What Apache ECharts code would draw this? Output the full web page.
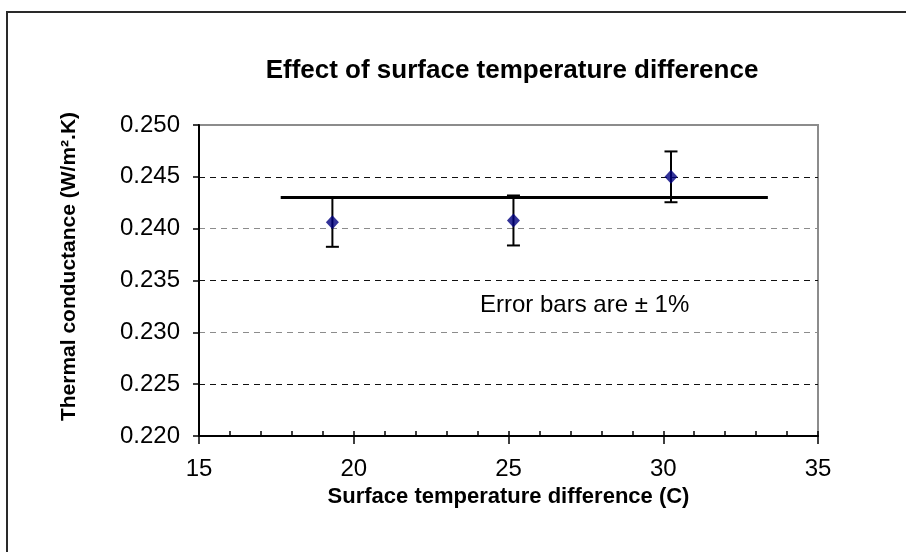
<!DOCTYPE html>
<html>
<head>
<meta charset="utf-8">
<script src="https://cdn.jsdelivr.net/npm/echarts@6/dist/echarts.min.js"></script>
<style>
  html, body { margin: 0; padding: 0; background: #fff; }
  #chart { width: 906px; height: 552px; }
</style>
</head>
<body>
<div id="chart"></div>
<script>
// measured points
const tempDiff = [19.31, 25.16, 30.25]
const conductance = [0.24063, 0.24079, 0.2450]
// error bar ends (+/- 1%)
const errLow = [0.23825, 0.23838, 0.24255]
const errHigh = [0.24302, 0.24320, 0.24745]
// mean line
const meanLineX = [17.64, 33.38]
const meanLineY = [0.2430, 0.2430]

const yTickColors = ['#8c8c8c', '#111111']

const chart = echarts.init(document.getElementById('chart'))

const pointData = tempDiff.map((x, i) => [x, conductance[i]])
const errData = tempDiff.map((x, i) => [x, errLow[i], errHigh[i]])
const lineData = meanLineX.map((x, i) => [x, meanLineY[i]])

const option = {
  backgroundColor: '#fff',
  animation: false,
  textStyle: { fontFamily: 'Liberation Sans, Arial, sans-serif' },
  title: {
    text: 'Effect of surface temperature difference',
    left: 507,
    top: 53,
    textAlign: 'center',
    textStyle: { fontSize: 26, fontWeight: 'bold', color: '#000', fontFamily: 'Liberation Sans' }
  },
  grid: {
    left: 199, right: 88, top: 125, bottom: 116,
    show: true, borderColor: '#8c8c8c', borderWidth: 2, backgroundColor: '#fff'
  },
  graphic: [
    {
      type: 'rect',
      shape: { x: 7, y: 12, width: 1000, height: 1000 },
      style: { fill: 'none', stroke: '#2a2a2a', lineWidth: 2 },
      silent: true
    },
    {
      type: 'text',
      left: 480,
      top: 293,
      style: { text: 'Error bars are ± 1%', fontSize: 24, fill: '#000', fontFamily: 'Liberation Sans' }
    }
  ],
  xAxis: [
    {
      type: 'value',
      min: 15, max: 35, interval: 5,
      name: 'Surface temperature difference (C)',
      nameLocation: 'middle',
      nameGap: 44,
      nameTextStyle: { fontSize: 22, fontWeight: 'bold', color: '#000' },
      axisLine: { show: true, lineStyle: { color: '#000', width: 2 } },
      axisTick: { show: true, length: 8, lineStyle: { color: '#000', width: 1.5 } },
      axisLabel: { fontSize: 24, color: '#000', margin: 21 },
      splitLine: { show: false }
    },
    {
      type: 'value',
      position: 'bottom',
      min: 15, max: 35, interval: 1,
      axisLine: { show: false },
      axisTick: { show: true, inside: true, length: 5, lineStyle: { color: '#000', width: 1.5 } },
      axisLabel: { show: false },
      splitLine: { show: false }
    }
  ],
  yAxis: {
    type: 'value',
    min: 0.220, max: 0.250, interval: 0.005,
    name: 'Thermal conductance (W/m².K)',
    nameLocation: 'middle',
    nameGap: 119,
    nameTextStyle: { fontSize: 21, fontWeight: 'bold', color: '#000', padding: [0, 0, 0, 28] },
    axisLine: { show: true, lineStyle: { color: '#000', width: 2 } },
    axisTick: { show: true, length: 6, lineStyle: { color: '#000', width: 1.5 } },
    axisLabel: { fontSize: 24, color: '#000', margin: 19, formatter: v => v.toFixed(3) },
    splitLine: { show: true, lineStyle: { color: yTickColors, type: [6, 5], width: 1 } }
  },
  series: [
    {
      name: 'mean',
      type: 'line',
      data: lineData,
      symbol: 'none',
      lineStyle: { color: '#000', width: 3 },
      z: 3
    },
    {
      name: 'error',
      type: 'custom',
      data: errData,
      z: 4,
      renderItem: (params, api) => {
        const x = api.value(0)
        const lo = api.coord([x, api.value(1)])
        const hi = api.coord([x, api.value(2)])
        const half = 6.5
        const style = { stroke: '#000', lineWidth: 2 }
        return {
          type: 'group',
          children: [
            { type: 'line', shape: { x1: lo[0], y1: lo[1], x2: hi[0], y2: hi[1] }, style },
            { type: 'line', shape: { x1: lo[0] - half, y1: lo[1], x2: lo[0] + half, y2: lo[1] }, style },
            { type: 'line', shape: { x1: hi[0] - half, y1: hi[1], x2: hi[0] + half, y2: hi[1] }, style }
          ]
        }
      }
    },
    {
      name: 'measured',
      type: 'scatter',
      data: pointData,
      symbol: 'diamond',
      symbolSize: [13, 14],
      itemStyle: { color: '#000080' },
      z: 5
    }
  ]
}

chart.setOption(option)
</script>
</body>
</html>
